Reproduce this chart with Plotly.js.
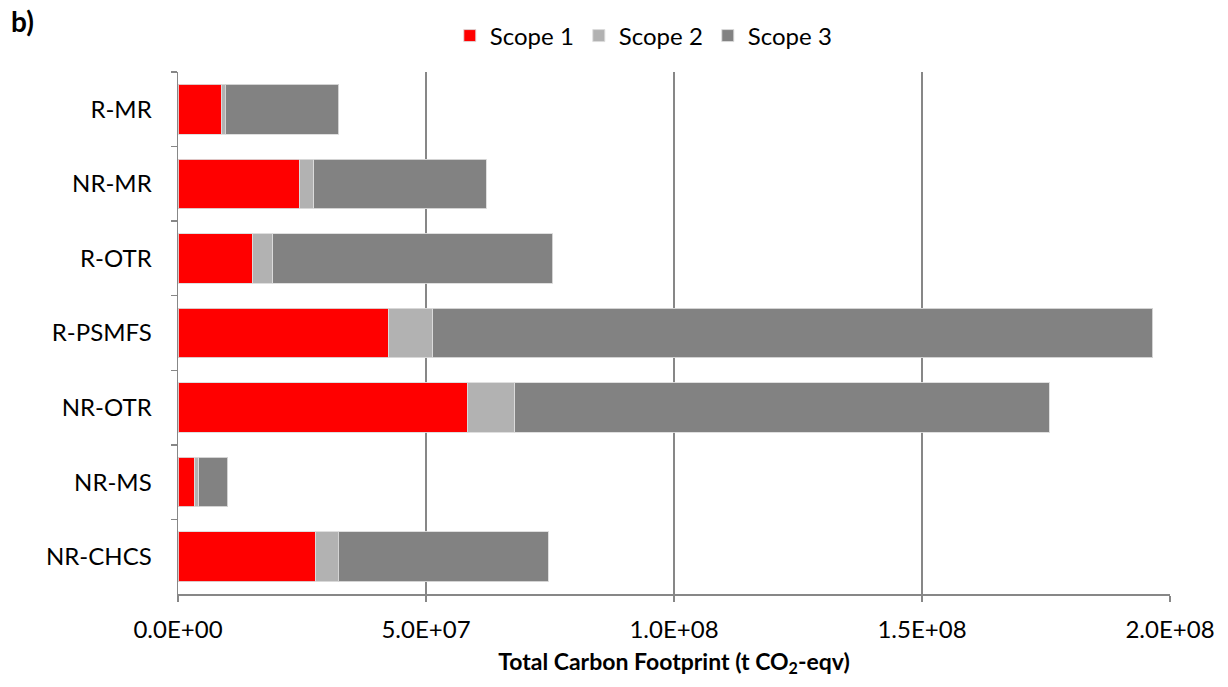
<!DOCTYPE html>
<html>
<head>
<meta charset="utf-8">
<script src="https://cdn.plot.ly/plotly-3.0.1.min.js"></script>
<style>html,body{margin:0;padding:0;background:#fff;}#chart{width:1228px;height:687px;}</style>
</head>
<body>
<div id="chart"></div>
<script>
const categories = ["R-MR", "NR-MR", "R-OTR", "R-PSMFS", "NR-OTR", "NR-MS", "NR-CHCS"];
const scope1 = [8.7e6, 24.5e6, 15.1e6, 42.5e6, 58.3e6, 3.4e6, 27.8e6];
const scope2 = [0.8e6, 2.9e6, 4.0e6, 8.9e6, 9.6e6, 0.8e6, 4.5e6];
const scope3 = [22.9e6, 34.7e6, 56.5e6, 145.1e6, 107.8e6, 5.8e6, 42.3e6];
const xTickVals = [0, 5e7, 1e8, 1.5e8, 2e8];
const xTickText = ["0.0E+00", "5.0E+07", "1.0E+08", "1.5E+08", "2.0E+08"];

const font = "Lato, 'Open Sans', sans-serif";
const outline = {color: "rgba(220,220,220,0.9)", width: 1};
const traces = [
  {name: "Scope 1", y: categories, x: scope1, type: "bar", orientation: "h", marker: {color: "#FF0000", line: outline}},
  {name: "Scope 2", y: categories, x: scope2, type: "bar", orientation: "h", marker: {color: "#B2B2B2", line: outline}},
  {name: "Scope 3", y: categories, x: scope3, type: "bar", orientation: "h", marker: {color: "#828282", line: outline}}
];

const layout = {
  width: 1228, height: 687,
  margin: {l: 178, r: 58, t: 72, b: 93},
  paper_bgcolor: "#fff", plot_bgcolor: "#fff",
  barmode: "stack",
  bargap: 0.335,
  font: {family: font, size: 24, color: "#000"},
  title: {text: "<b>b)</b>", x: 0.009, xanchor: "left", xref: "container", y: 0.968, yanchor: "middle", yref: "container", font: {family: font, size: 28, color: "#000"}},
  legend: {orientation: "h", x: 0.274, xanchor: "left", y: 1.069, yanchor: "middle", font: {family: font, size: 24}, traceorder: "normal", itemwidth: 30},
  xaxis: {
    range: [0, 2e8], tickvals: xTickVals, ticktext: xTickText,
    showgrid: true, gridcolor: "#878787", gridwidth: 1.5,
    showline: true, linecolor: "#878787", linewidth: 1.5,
    ticks: "outside", ticklen: 6, tickcolor: "#878787", tickwidth: 1.5,
    ticklabelstandoff: 8,
    zeroline: false,
    title: {text: "<b>Total Carbon Footprint (t CO<sub>2</sub>-eqv)</b>", font: {family: font, size: 23}, standoff: 11},
    tickfont: {family: font, size: 24}
  },
  yaxis: {
    autorange: "reversed", type: "category",
    showgrid: false, showline: true, linecolor: "#878787", linewidth: 1.5,
    ticks: "outside", tickson: "boundaries", ticklen: 6, tickcolor: "#878787", tickwidth: 1.5,
    ticklabelstandoff: 20,
    tickfont: {family: font, size: 24}
  }
};

Plotly.newPlot("chart", traces, layout, {displayModeBar: false, staticPlot: true});
</script>
</body>
</html>
